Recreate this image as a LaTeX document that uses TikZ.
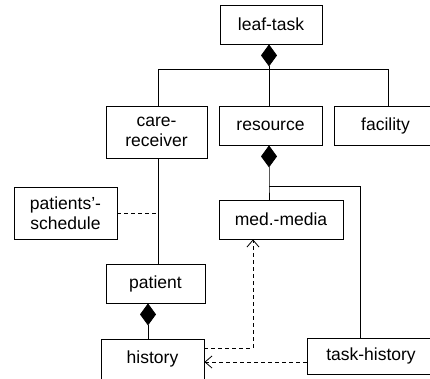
\documentclass[tikz,border=0pt]{standalone}
\usepackage{fontspec}
\setmainfont{Liberation Sans}
\usetikzlibrary{arrows.meta}
\tikzset{
  box/.style={draw, line width=0.8pt, inner sep=0pt, align=center,
    font=\fontsize{17.5}{20}\selectfont},
  conn/.style={line width=0.8pt},
  dep/.style={line width=0.8pt, dash pattern=on 4pt off 3pt, -{Straight Barb[length=7pt,width=12pt,line width=0.8pt]}},
  dline/.style={line width=0.8pt, dash pattern=on 4pt off 3pt},
  comp/.style={line width=0.8pt, {Diamond[length=22pt,width=16pt]}-}
}
\begin{document}
\begin{tikzpicture}[x=1pt,y=-1pt]
\useasboundingbox (0,0) rectangle (430,378);
\clip (0,0) rectangle (430,378);
\node[box, minimum width=102pt, minimum height=39pt] (leaf) at (271,24.5) {leaf-task};
\node[box, minimum width=101pt, minimum height=52pt] (care) at (156.5,132) {care-\\receiver};
\node[box, minimum width=103pt, minimum height=39pt] (res) at (270.5,125.5) {resource};
\node[box, minimum width=103pt, minimum height=39pt] (fac) at (385.5,125.5) {facility};
\node[box, minimum width=103pt, minimum height=52pt] (sched) at (65.5,213) {patients'-\\schedule};
\node[box, minimum width=124pt, minimum height=39pt] (med) at (281,219.5) {med.-media};
\node[box, minimum width=99pt, minimum height=39pt] (pat) at (155.5,283.5) {patient};
\node[box, minimum width=103pt, minimum height=40pt] (hist) at (152.5,359) {history};
\node[box, minimum width=128pt, minimum height=36pt] (th) at (371,356) {task-history};

\coordinate (j1) at (269,69);
\coordinate (cl) at (158,69);
\coordinate (fl) at (388,69);
\draw[comp] (j1 |- leaf.south) -- (j1);
\draw[conn] (cl |- care.north) -- (cl) -- (fl) -- (fl |- fac.north);
\draw[conn] (j1) -- (j1 |- res.north);

\coordinate (j2) at (269,186);
\coordinate (j3) at (360,186);
\draw[comp] (j2 |- res.south) -- (j2) -- (j2 |- med.north);
\draw[conn] (j2) -- (j3) -- (j3 |- th.north);

\coordinate (c1) at (158,213);
\draw[conn] (c1 |- care.south) -- (c1 |- pat.north);
\draw[dline] (sched.east |- c1) -- (c1);

\coordinate (p1) at (148,339);
\draw[comp] (p1 |- pat.south) -- (p1 |- hist.north);

\coordinate (d1) at (253,348);
\draw[dep] (hist.east |- d1) -- (d1) -- (d1 |- med.south);
\coordinate (d2) at (300,362);
\draw[dep] (th.west |- d2) -- (hist.east |- d2);
\end{tikzpicture}
\end{document}
